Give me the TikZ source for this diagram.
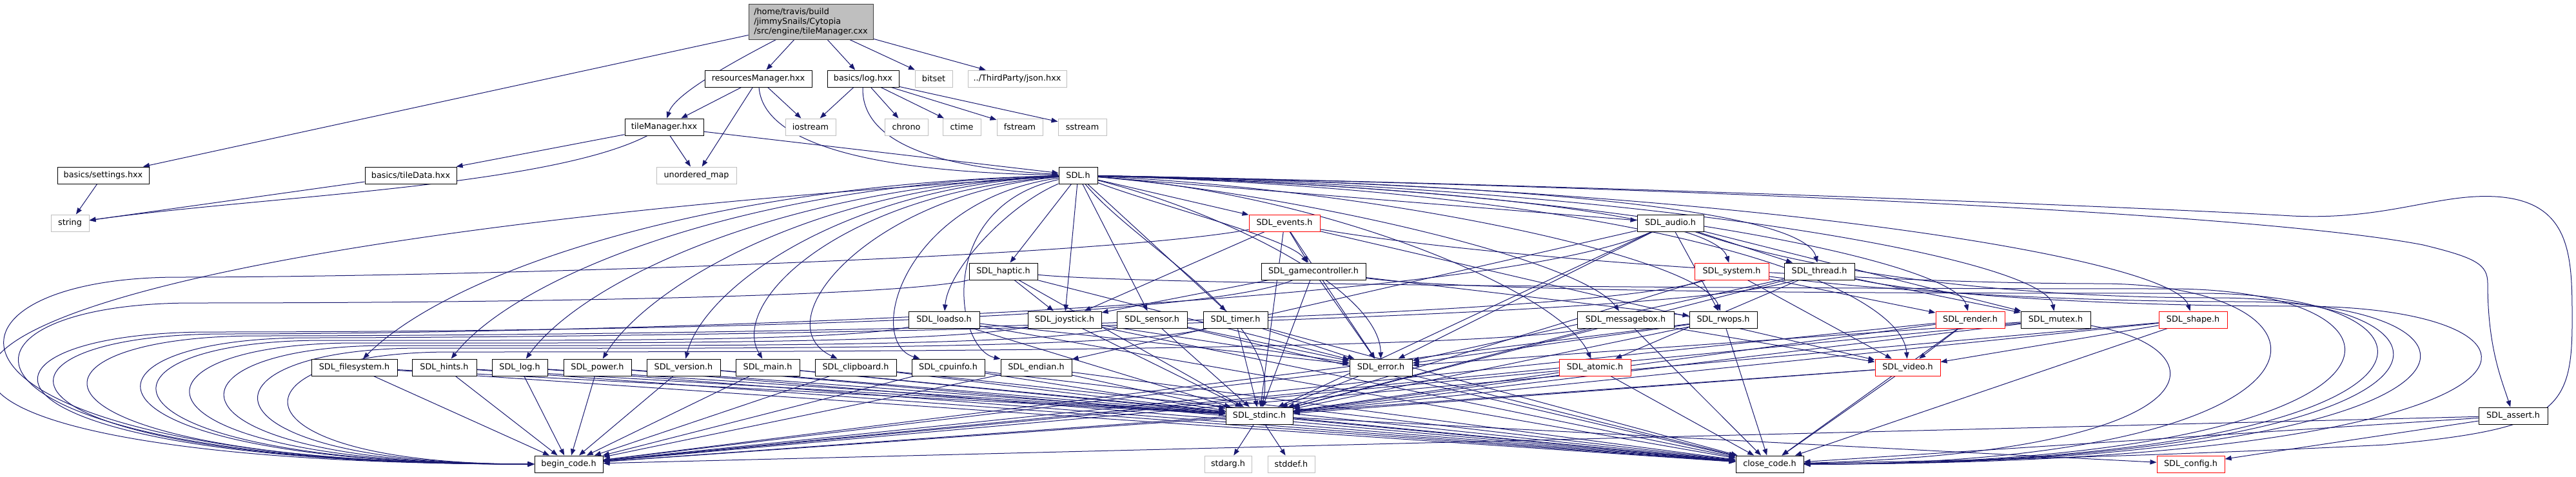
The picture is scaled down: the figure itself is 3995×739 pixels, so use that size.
\documentclass[tikz,border=0pt]{standalone}
\usepackage{fontspec}
\newfontfamily\nodefont{DejaVu Sans}
\usetikzlibrary{arrows.meta}
\pgfdeclarelayer{bg}
\pgfsetlayers{bg,main}
\definecolor{edgec}{HTML}{191970}
\definecolor{graybd}{HTML}{BFBFBF}
\definecolor{mainfill}{HTML}{BFBFBF}
\definecolor{mainbd}{HTML}{404040}
\definecolor{redbd}{HTML}{FF0000}
\tikzset{
  edg/.style={draw=edgec, line width=1pt, -{Triangle[length=10pt,width=7.5pt]}},
  nb/.style={draw=black, fill=white, line width=1pt, minimum height=26pt, inner sep=0pt, font={\nodefont\fontsize{12.8}{15}\selectfont}},
  ng/.style={nb, draw=graybd},
  nr/.style={nb, draw=redbd},
  nm/.style={nb, fill=mainfill, draw=mainbd, align=left},
}
\begin{document}
\begin{tikzpicture}[x=1pt,y=-1pt]
\useasboundingbox (0,0) rectangle (3995,739);
% ---------- nodes ----------
\node[nm, minimum width=193pt, minimum height=55pt] (main) at (1257.5,33.5) {/home/travis/build\\/jimmySnails/Cytopia\\/src/engine/tileManager.cxx};
\node[nb, minimum width=166pt] (resmgr) at (1176,122) {resourcesManager.hxx};
\node[nb, minimum width=111pt] (loghxx) at (1338.5,122) {basics/log.hxx};
\node[ng, minimum width=58pt] (bitset) at (1448,122) {bitset};
\node[ng, minimum width=153pt] (json) at (1577.5,122) {../ThirdParty/json.hxx};
\node[nb, minimum width=122pt] (tilemgr) at (1030,197) {tileManager.hxx};
\node[ng, minimum width=78pt] (iostream) at (1257,197) {iostream};
\node[ng, minimum width=67pt] (chrono) at (1405.5,197) {chrono};
\node[ng, minimum width=59pt] (ctime) at (1491.5,197) {ctime};
\node[ng, minimum width=71pt] (fstream) at (1581.5,197) {fstream};
\node[ng, minimum width=75pt] (sstream) at (1678.5,197) {sstream};
\node[nb, minimum width=142pt] (settings) at (160,272) {basics/settings.hxx};
\node[nb, minimum width=142pt] (tiledata) at (637,272) {basics/tileData.hxx};
\node[ng, minimum width=124pt] (umap) at (1080,272) {unordered\_map};
\node[nb, minimum width=60pt] (sdl) at (1672,272) {SDL.h};
\node[ng, minimum width=59pt] (string) at (108.5,346) {string};
\node[nr, minimum width=110pt] (events) at (1992,346) {SDL\_events.h};
\node[nb, minimum width=103pt] (audio) at (2590.5,346) {SDL\_audio.h};
\node[nb, minimum width=106pt] (haptic) at (1556,421) {SDL\_haptic.h};
\node[nb, minimum width=162pt] (gamectl) at (2037,421) {SDL\_gamecontroller.h};
\node[nr, minimum width=115pt] (system) at (2685.5,421) {SDL\_system.h};
\node[nb, minimum width=109pt] (thread) at (2821.5,421) {SDL\_thread.h};
\node[nb, minimum width=110pt] (loadso) at (1464,496) {SDL\_loadso.h};
\node[nb, minimum width=114pt] (joystick) at (1651,496) {SDL\_joystick.h};
\node[nb, minimum width=109pt] (sensor) at (1786.5,496) {SDL\_sensor.h};
\node[nb, minimum width=100pt] (timer) at (1916,496) {SDL\_timer.h};
\node[nb, minimum width=150pt] (msgbox) at (2521,496) {SDL\_messagebox.h};
\node[nb, minimum width=105pt] (rwops) at (2672.5,496) {SDL\_rwops.h};
\node[nr, minimum width=107pt] (render) at (3055.5,496) {SDL\_render.h};
\node[nb, minimum width=108pt] (mutex) at (3188,496) {SDL\_mutex.h};
\node[nr, minimum width=106pt] (shape) at (3401,496) {SDL\_shape.h};
\node[nb, minimum width=133pt] (filesys) at (549.5,570) {SDL\_filesystem.h};
\node[nb, minimum width=100pt] (hints) at (689,570) {SDL\_hints.h};
\node[nb, minimum width=86pt] (sdllog) at (806,570) {SDL\_log.h};
\node[nb, minimum width=105pt] (power) at (926.5,570) {SDL\_power.h};
\node[nb, minimum width=114pt] (version) at (1060,570) {SDL\_version.h};
\node[nb, minimum width=99pt] (sdlmain) at (1190.5,570) {SDL\_main.h};
\node[nb, minimum width=126pt] (clipboard) at (1327,570) {SDL\_clipboard.h};
\node[nb, minimum width=113pt] (cpuinfo) at (1470.5,570) {SDL\_cpuinfo.h};
\node[nb, minimum width=110pt] (endian) at (1607,570) {SDL\_endian.h};
\node[nb, minimum width=97pt] (error) at (2141.5,570) {SDL\_error.h};
\node[nr, minimum width=111pt] (atomic) at (2473.5,570) {SDL\_atomic.h};
\node[nr, minimum width=101pt] (video) at (2958.5,570) {SDL\_video.h};
\node[nb, minimum width=104pt] (stdinc) at (1953,645) {SDL\_stdinc.h};
\node[nb, minimum width=107pt] (assert) at (3897.5,645) {SDL\_assert.h};
\node[nb, minimum width=106pt] (begin) at (882,720) {begin\_code.h};
\node[ng, minimum width=73pt] (stdarg) at (1904.5,720) {stdarg.h};
\node[ng, minimum width=73pt] (stddef) at (2002.5,720) {stddef.h};
\node[nb, minimum width=105pt] (close) at (2744.5,720) {close\_code.h};
\node[nr, minimum width=105pt] (config) at (3397.5,720) {SDL\_config.h};
% ---------- edges ----------
\begin{pgfonlayer}{bg}
% top part
\draw[edg] (main) -- (settings);
\draw[edg] (main) .. controls (1110,110) and (1045,150) .. (tilemgr);
\draw[edg] (main) -- (resmgr);
\draw[edg] (main) -- (loghxx);
\draw[edg] (main) -- (bitset);
\draw[edg] (main) -- (json);
\draw[edg] (resmgr) -- (tilemgr);
\draw[edg] (resmgr) -- (iostream);
\draw[edg] (resmgr) -- (umap);
\draw[edg] (resmgr) .. controls (1185,240) and (1420,268) .. (sdl);
\draw[edg] (loghxx) -- (iostream);
\draw[edg] (loghxx) -- (chrono);
\draw[edg] (loghxx) -- (ctime);
\draw[edg] (loghxx) -- (fstream);
\draw[edg] (loghxx) -- (sstream);
\draw[edg] (loghxx) .. controls (1335,230) and (1480,262) .. (sdl);
\draw[edg] (tilemgr) -- (tiledata);
\draw[edg] (tilemgr) .. controls (850,290) and (400,305) .. (string);
\draw[edg] (tilemgr) -- (umap);
\draw[edg] (tilemgr) -- (sdl);
\draw[edg] (settings) -- (string);
\draw[edg] (tiledata) -- (string);
% SDL.h
\draw[edg] (sdl) .. controls (-404,400) and (-404,720) .. (begin);
\draw[edg] (sdl) .. controls (2400,285) and (3300,320) .. (3555,335) .. controls (3700,342) and (3780,300) .. (3870,305) .. controls (3990,312) and (3989,400) .. (3989,500) .. controls (3989,640) and (3960,665) .. (3700,690) .. controls (3300,710) and (3000,715) .. (close);
\draw[edg] (sdl) .. controls (2600,290) and (3500,330) .. (3758,380) .. controls (3840,400) and (3858,410) .. (3858,440) .. controls (3858,540) and (3880,590) .. (assert);
\draw[edg] (sdl) -- (events);
\draw[edg] (sdl) -- (audio);
\draw[edg] (sdl) -- (haptic);
\draw[edg] (sdl) .. controls (1800,320) and (2000,370) .. (gamectl);
\draw[edg] (sdl) .. controls (2300,290) and (2660,340) .. (system);
\draw[edg] (sdl) .. controls (2400,285) and (2800,330) .. (thread);
\draw[edg] (sdl) .. controls (1560,320) and (1470,420) .. (loadso);
\draw[edg] (sdl) -- (joystick);
\draw[edg] (sdl) -- (sensor);
\draw[edg] (sdl) -- (timer);
\draw[edg] (sdl) .. controls (2000,300) and (2450,400) .. (msgbox);
\draw[edg] (sdl) .. controls (2150,295) and (2640,400) .. (rwops);
\draw[edg] (sdl) .. controls (2450,290) and (3030,400) .. (render);
\draw[edg] (sdl) .. controls (2550,290) and (3170,400) .. (mutex);
\draw[edg] (sdl) .. controls (2700,290) and (3370,400) .. (shape);
\draw[edg] (sdl) .. controls (1100,285) and (700,420) .. (filesys);
\draw[edg] (sdl) .. controls (1150,285) and (800,430) .. (hints);
\draw[edg] (sdl) .. controls (1200,290) and (900,440) .. (sdllog);
\draw[edg] (sdl) .. controls (1250,290) and (1000,450) .. (power);
\draw[edg] (sdl) .. controls (1300,290) and (1090,450) .. (version);
\draw[edg] (sdl) .. controls (1300,300) and (1130,470) .. (sdlmain);
\draw[edg] (sdl) .. controls (1350,300) and (1180,500) .. (clipboard);
\draw[edg] (sdl) .. controls (1400,310) and (1340,530) .. (cpuinfo);
\draw[edg] (sdl) .. controls (1450,320) and (1480,540) .. (endian);
\draw[edg] (sdl) .. controls (1900,330) and (2140,450) .. (error);
\draw[edg] (sdl) .. controls (2050,300) and (2420,450) .. (atomic);
\draw[edg] (sdl) .. controls (2600,300) and (2950,450) .. (video);
\draw[edg] (sdl) .. controls (1760,380) and (1990,500) .. (stdinc);
% headers including stdinc, begin_code, close_code directly
\foreach \n in {filesys,hints,sdllog,power,version,sdlmain,clipboard,cpuinfo,endian,error,atomic,video,render,shape,rwops}{
  \draw[edg] (\n) -- (stdinc);
  \draw[edg] (\n) -- (begin);
  \draw[edg] (\n) -- (close);
}
% headers including stdinc and error
\foreach \n in {loadso,timer,sensor,joystick,mutex,haptic,gamectl,events,audio,thread}{
  \draw[edg] (\n) -- (stdinc);
  \draw[edg] (\n) -- (error);
}
\draw[edg] (rwops) -- (error);
\foreach \n in {loadso,timer,sensor,joystick,msgbox}{
  \draw[edg] (\n) -- (close);
}
\draw[edg] (msgbox) -- (stdinc);
\draw[edg] (system) -- (stdinc);
\draw[edg] (mutex) -- (begin);
\draw[edg] (mutex) .. controls (3450,540) and (3450,700) .. (close);
\draw[edg] (msgbox) -- (video);
\draw[edg] (haptic) -- (joystick);
\draw[edg] (gamectl) -- (rwops);
\draw[edg] (gamectl) -- (joystick);
\draw[edg] (events) -- (video);
\draw[edg] (events) -- (joystick);
\draw[edg] (events) -- (gamectl);
\draw[edg] (audio) -- (endian);
\draw[edg] (audio) -- (mutex);
\draw[edg] (audio) -- (thread);
\draw[edg] (audio) -- (rwops);
\draw[edg] (system) -- (render);
\draw[edg] (system) -- (video);
\draw[edg] (thread) -- (atomic);
\draw[edg] (thread) -- (mutex);
\draw[edg] (render) -- (video);
\draw[edg] (shape) -- (video);
\draw[edg] (stdinc) -- (config);
\draw[edg] (stdinc) -- (stdarg);
\draw[edg] (stdinc) -- (stddef);
\draw[edg] (stdinc) -- (begin);
\draw[edg] (stdinc) -- (close);
\draw[edg] (assert) -- (config);
\draw[edg] (assert) -- (begin);
\draw[edg] (assert) -- (close);
% left arcs to begin_code.h
\draw[edg] (events) .. controls (1700,400) and (700,430) .. (277,430) .. controls (-148,430) and (-148,720) .. (begin);
\draw[edg] (haptic) .. controls (1400,460) and (800,470) .. (299,470) .. controls (-123,470) and (-123,720) .. (begin);
\draw[edg] (gamectl) .. controls (1850,500) and (900,515) .. (327,515) .. controls (-90,515) and (-90,720) .. (begin);
\draw[edg] (audio) .. controls (2300,480) and (900,518) .. (350,518) .. controls (-63,518) and (-63,720) .. (begin);
\draw[edg] (system) .. controls (2450,500) and (1000,521) .. (400,521) .. controls (-5,521) and (-5,720) .. (begin);
\draw[edg] (thread) .. controls (2600,500) and (1000,524) .. (479,524) .. controls (87,524) and (87,720) .. (begin);
\draw[edg] (loadso) .. controls (1300,530) and (900,528) .. (502,528) .. controls (114,528) and (114,720) .. (begin);
\draw[edg] (joystick) .. controls (1450,535) and (900,532) .. (552,532) .. controls (172,532) and (172,720) .. (begin);
\draw[edg] (sensor) .. controls (1600,540) and (1000,536) .. (603,536) .. controls (232,536) and (232,720) .. (begin);
\draw[edg] (timer) .. controls (1750,545) and (1000,540) .. (654,540) .. controls (291,540) and (291,720) .. (begin);
\draw[edg] (msgbox) .. controls (2300,546) and (1100,546) .. (699,546) .. controls (344,546) and (344,720) .. (begin);
% right arcs to close_code.h
\draw[edg] (events) .. controls (2300,400) and (2900,440) .. (3255,440) .. controls (3665,440) and (3665,720) .. (close);
\draw[edg] (haptic) .. controls (1800,445) and (3000,448) .. (3364,448) .. controls (3792,448) and (3792,720) .. (close);
\draw[edg] (gamectl) .. controls (2300,455) and (3000,455) .. (3412,455) .. controls (3848,455) and (3848,720) .. (close);
\draw[edg] (audio) .. controls (2800,420) and (3100,462) .. (3435,462) .. controls (3875,462) and (3875,720) .. (close);
\draw[edg] (system) .. controls (2900,450) and (3200,468) .. (3475,468) .. controls (3921,468) and (3921,720) .. (close);
\draw[edg] (thread) .. controls (3000,460) and (3300,475) .. (3564,475) .. controls (4025,475) and (4025,720) .. (close);
\end{pgfonlayer}
\end{tikzpicture}
\end{document}
